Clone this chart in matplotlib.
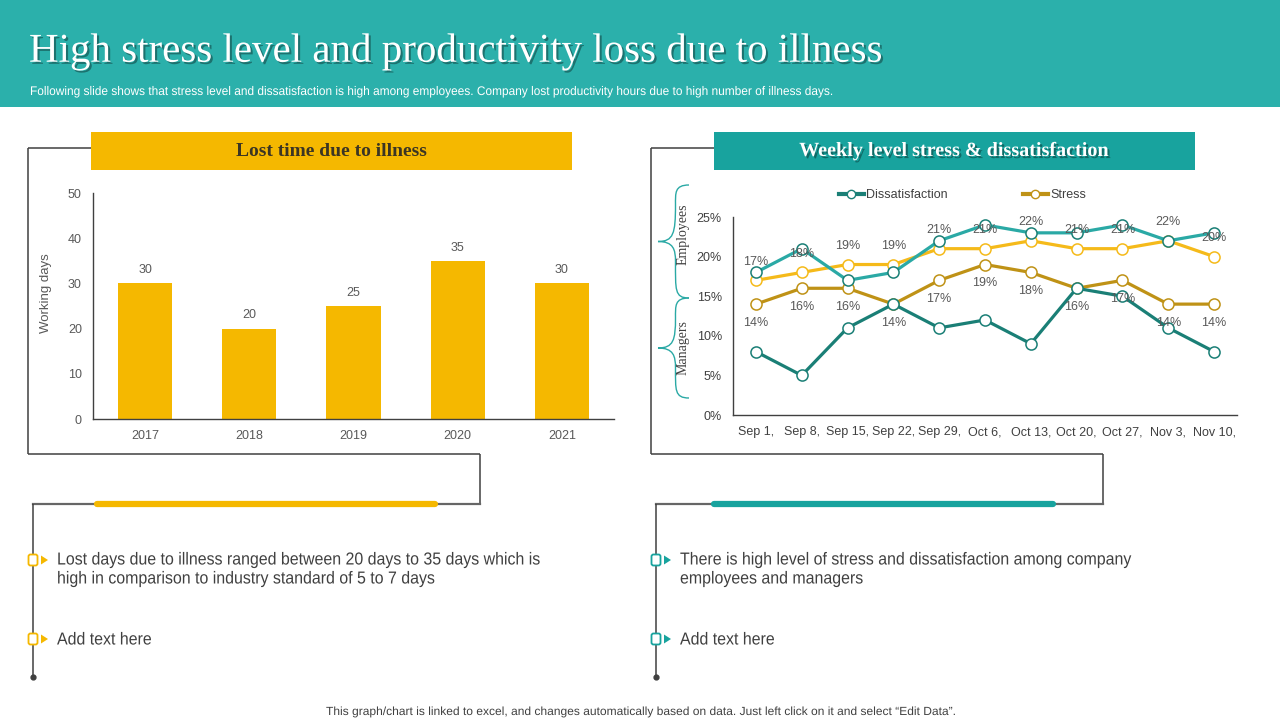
import matplotlib
matplotlib.use("Agg")
import matplotlib.pyplot as plt
import matplotlib.patheffects as pe
from matplotlib.patches import Rectangle, FancyBboxPatch, Polygon, PathPatch
from matplotlib.path import Path
from matplotlib.lines import Line2D
from matplotlib.transforms import Affine2D

# ---- data ----
years = ["2017", "2018", "2019", "2020", "2021"]
lost_days = [30, 20, 25, 35, 30]

weeks = ["Sep 1,", "Sep 8,", "Sep 15,", "Sep 22,", "Sep 29,", "Oct 6,",
         "Oct 13,", "Oct 20,", "Oct 27,", "Nov 3,", "Nov 10,"]
dissat_employees = [18, 21, 17, 18, 22, 24, 23, 23, 24, 22, 23]
dissat_managers = [8, 5, 11, 14, 11, 12, 9, 16, 15, 11, 8]
stress_employees = [17, 18, 19, 19, 21, 21, 22, 21, 21, 22, 20]
stress_managers = [14, 16, 16, 14, 17, 19, 18, 16, 17, 14, 14]

title = "High stress level and productivity loss due to illness"
subtitle = ("Following slide shows that stress level and dissatisfaction is high among employees. "
            "Company lost productivity hours due to high number of illness days.")
footer = ("This graph/chart is linked to excel, and changes automatically based on data. "
          "Just left click on it and select \u201cEdit Data\u201d.")

# ---- colours ----
HEADER = "#2BB0AB"
GOLD = "#F5B800"
TEAL_BOX = "#18A39E"
TEAL_LIGHT = "#2AA9A5"
TEAL_DARK = "#1A7F76"
YELLOW = "#F5BA1A"
DARK_GOLD = "#BF9216"
TXT = "#595959"
FRAME = "#404040"

SANS = ["Liberation Sans", "DejaVu Sans"]
SERIF = ["Liberation Serif", "DejaVu Serif"]

W, H = 1280, 720
fig = plt.figure(figsize=(12.8, 7.2), dpi=100)
fig.patch.set_facecolor("white")
renderer = fig.canvas.get_renderer()

bg = fig.add_axes([0, 0, 1, 1])
bg.set_xlim(0, W)
bg.set_ylim(H, 0)
bg.axis("off")


class Squeeze(pe.AbstractPathEffect):
    """Draw text narrower (horizontal scale about its left edge)."""

    def __init__(self, sx):
        super().__init__()
        self.sx = sx

    def draw_path(self, renderer, gc, tpath, affine, rgbFace=None):
        renderer.draw_path(gc, tpath, Affine2D().scale(self.sx, 1) + affine, rgbFace)


def narrow_text(x, y, s, width=None, sx=None, **kw):
    # left-anchored text squeezed to a given pixel width (condensed-font look)
    t = bg.text(x, y, s, ha="left", family=SANS, **kw)
    if sx is None:
        sx = width / t.get_window_extent(renderer).width
    t.set_path_effects([Squeeze(sx)])
    return sx


shadow = [pe.SimplePatchShadow(offset=(1.5, -1.5), shadow_rgbFace="k", alpha=0.35), pe.Normal()]

# header
bg.add_patch(Rectangle((0, 0), W, 107, color=HEADER, lw=0))
bg.text(29, 52, title, color="white", fontsize=29.5, family=SERIF, va="center", ha="left",
        path_effects=shadow)
narrow_text(30, 92, subtitle, width=808, color="white", fontsize=9, va="center")

# panel title boxes
bg.add_patch(Rectangle((91, 132), 481, 38, color=GOLD, lw=0))
bg.text(331, 151, "Lost time due to illness", color="#3B3524", fontsize=14, family=SERIF,
        weight="bold", ha="center", va="center")
bg.add_patch(Rectangle((714, 132), 481, 38, color=TEAL_BOX, lw=0))
bg.text(954, 151, "Weekly level stress & dissatisfaction", color="white", fontsize=14.5,
        family=SERIF, weight="bold", ha="center", va="center", path_effects=shadow)


def frame(x0, xbox, xend, xdrop, accent, a0, a1):
    kw = dict(color=FRAME, lw=1.1, solid_capstyle="butt")
    bg.plot([x0, xbox], [148, 148], **kw)
    bg.plot([x0, x0], [148, 454], **kw)
    bg.plot([x0, xend], [454, 454], **kw)
    bg.plot([xend, xend], [454, 504], **kw)
    bg.plot([xend, xdrop], [504, 504], color="#666666", lw=1.6)
    bg.plot([xdrop, xdrop], [504, 677], **kw)
    bg.plot([a0, a1], [504, 504], color=accent, lw=4.5, solid_capstyle="round")
    bg.plot([xdrop], [677], "o", color=FRAME, ms=3.5)


frame(28, 91, 480, 33, GOLD, 97, 435)
frame(651, 714, 1103, 656, TEAL_BOX, 714, 1053)


def bullet(x, y, col):
    bg.add_patch(FancyBboxPatch((x - 4.5, y - 5.5), 9, 11, boxstyle="round,pad=0,rounding_size=2",
                                fc="white", ec=col, lw=1.3, zorder=5))
    bg.add_patch(Polygon([(x + 8, y - 4.5), (x + 8, y + 4.5), (x + 15, y)], closed=True,
                         color=col, lw=0, zorder=5))


bullet(33, 560, GOLD)
bullet(33, 639, GOLD)
bullet(656, 560, TEAL_BOX)
bullet(656, 639, TEAL_BOX)

btxt = dict(color="#404040", fontsize=12.5, va="center")
bsx = narrow_text(57, 560, "Lost days due to illness ranged between 20 days to 35 days which is",
                  width=485, **btxt)
narrow_text(57, 579, "high in comparison to industry standard of 5 to 7 days", sx=bsx, **btxt)
narrow_text(57, 640, "Add text here", sx=bsx, **btxt)
narrow_text(680, 560, "There is high level of stress and dissatisfaction among company", sx=bsx, **btxt)
narrow_text(680, 579, "employees and managers", sx=bsx, **btxt)
narrow_text(680, 640, "Add text here", sx=bsx, **btxt)

narrow_text(326, 712, footer, width=627, color="#404040", fontsize=8.5, va="center")


# braces
def brace(xe, y0, y1, xt):
    ym = (y0 + y1) / 2
    xm = (xe + xt) / 2 + 2
    verts = [(xe, y0), (xm - 1, y0), (xm, y0 + 8), (xm, y0 + 20),
             (xm, ym - 8), (xm - 2, ym), (xt, ym),
             (xm - 2, ym), (xm, ym + 8), (xm, ym + 20),
             (xm, y1 - 8), (xm - 1, y1), (xe, y1)]
    codes = [Path.MOVETO] + [Path.CURVE4] * 12
    bg.add_patch(PathPatch(Path(verts, codes), fc="none", ec=TEAL_LIGHT, lw=1.0))


brace(689, 185, 298, 658)
brace(689, 298, 398, 658)
bg.text(683, 234, "Employees", rotation=90, color="#404040", fontsize=10, family=SERIF,
        ha="center", va="center")
bg.text(683, 348, "Managers", rotation=90, color="#404040", fontsize=10, family=SERIF,
        ha="center", va="center")


def px_axes(left, top, right, bottom):
    return fig.add_axes([left / W, (H - bottom) / H, (right - left) / W, (bottom - top) / H])


# ---- bar chart ----
ax1 = px_axes(93, 193, 614, 419)
ax1.set_facecolor("none")
xs = range(len(years))
ax1.bar(xs, lost_days, width=0.52, color=GOLD)
for x, v in zip(xs, lost_days):
    ax1.text(x, v + 1.6, str(v), ha="center", va="bottom", fontsize=9, color=TXT, family=SANS)
ax1.set_xlim(-0.5, len(years) - 0.5)
ax1.set_ylim(0, 50)
ax1.set_yticks(range(0, 51, 10))
ax1.set_xticks(list(xs))
ax1.set_xticklabels(years)
ax1.set_ylabel("Working days", fontsize=9.5, color=TXT, family=SANS)
ax1.yaxis.set_label_coords(-0.079, 0.557)
for s in ["top", "right"]:
    ax1.spines[s].set_visible(False)
for s in ["left", "bottom"]:
    ax1.spines[s].set_color(FRAME)
    ax1.spines[s].set_linewidth(1.0)
ax1.tick_params(length=0, labelsize=9, labelcolor=TXT, pad=8)
for lab in ax1.get_xticklabels() + ax1.get_yticklabels():
    lab.set_family(SANS)

# ---- line chart ----
ax2 = px_axes(733, 217, 1237, 415)
ax2.set_facecolor("none")
xw = list(range(len(weeks)))
mk = dict(marker="o", ms=8, mfc="white", mew=1.1, lw=2.3)
ax2.plot(xw, [v / 100 for v in stress_employees], color=YELLOW, mec=YELLOW, **mk)
ax2.plot(xw, [v / 100 for v in stress_managers], color=DARK_GOLD, mec=DARK_GOLD, **mk)
ax2.plot(xw, [v / 100 for v in dissat_managers], color=TEAL_DARK, mec=TEAL_DARK, **mk)
ax2.plot(xw, [v / 100 for v in dissat_employees], color=TEAL_LIGHT, mec=TEAL_DARK, **mk)
for x, v in zip(xw, stress_employees):
    ax2.annotate(f"{v}%", (x, v / 100), xytext=(0, 9), textcoords="offset points",
                 ha="center", va="bottom", fontsize=9, color=TXT, family=SANS)
for x, v in zip(xw, stress_managers):
    ax2.annotate(f"{v}%", (x, v / 100), xytext=(0, -9), textcoords="offset points",
                 ha="center", va="top", fontsize=9, color=TXT, family=SANS)
ax2.set_xlim(-0.5, len(weeks) - 0.5)
ax2.set_ylim(0, 0.25)
ax2.set_yticks([0, 0.05, 0.10, 0.15, 0.20, 0.25])
ax2.set_yticklabels(["0%", "5%", "10%", "15%", "20%", "25%"])
ax2.set_xticks(xw)
ax2.set_xticklabels(weeks)
for s in ["top", "right"]:
    ax2.spines[s].set_visible(False)
for s in ["left", "bottom"]:
    ax2.spines[s].set_color(FRAME)
    ax2.spines[s].set_linewidth(1.0)
ax2.tick_params(length=0, labelsize=9, labelcolor="#404040", pad=8)
for lab in ax2.get_xticklabels() + ax2.get_yticklabels():
    lab.set_family(SANS)

handles = [Line2D([], [], color=TEAL_DARK, lw=3, marker="o", ms=6, mfc="white", mec=TEAL_DARK),
           Line2D([], [], color=DARK_GOLD, lw=3, marker="o", ms=6, mfc="white", mec=DARK_GOLD)]
leg = ax2.legend(handles, ["Dissatisfaction", "Stress"], ncol=2, loc="center",
                 bbox_to_anchor=(0.455, 1.11), frameon=False, handlelength=2.0,
                 columnspacing=6.0, handletextpad=0.2, prop={"family": SANS, "size": 9})
for t in leg.get_texts():
    t.set_color("#404040")

fig.savefig("out.png", dpi=100)
